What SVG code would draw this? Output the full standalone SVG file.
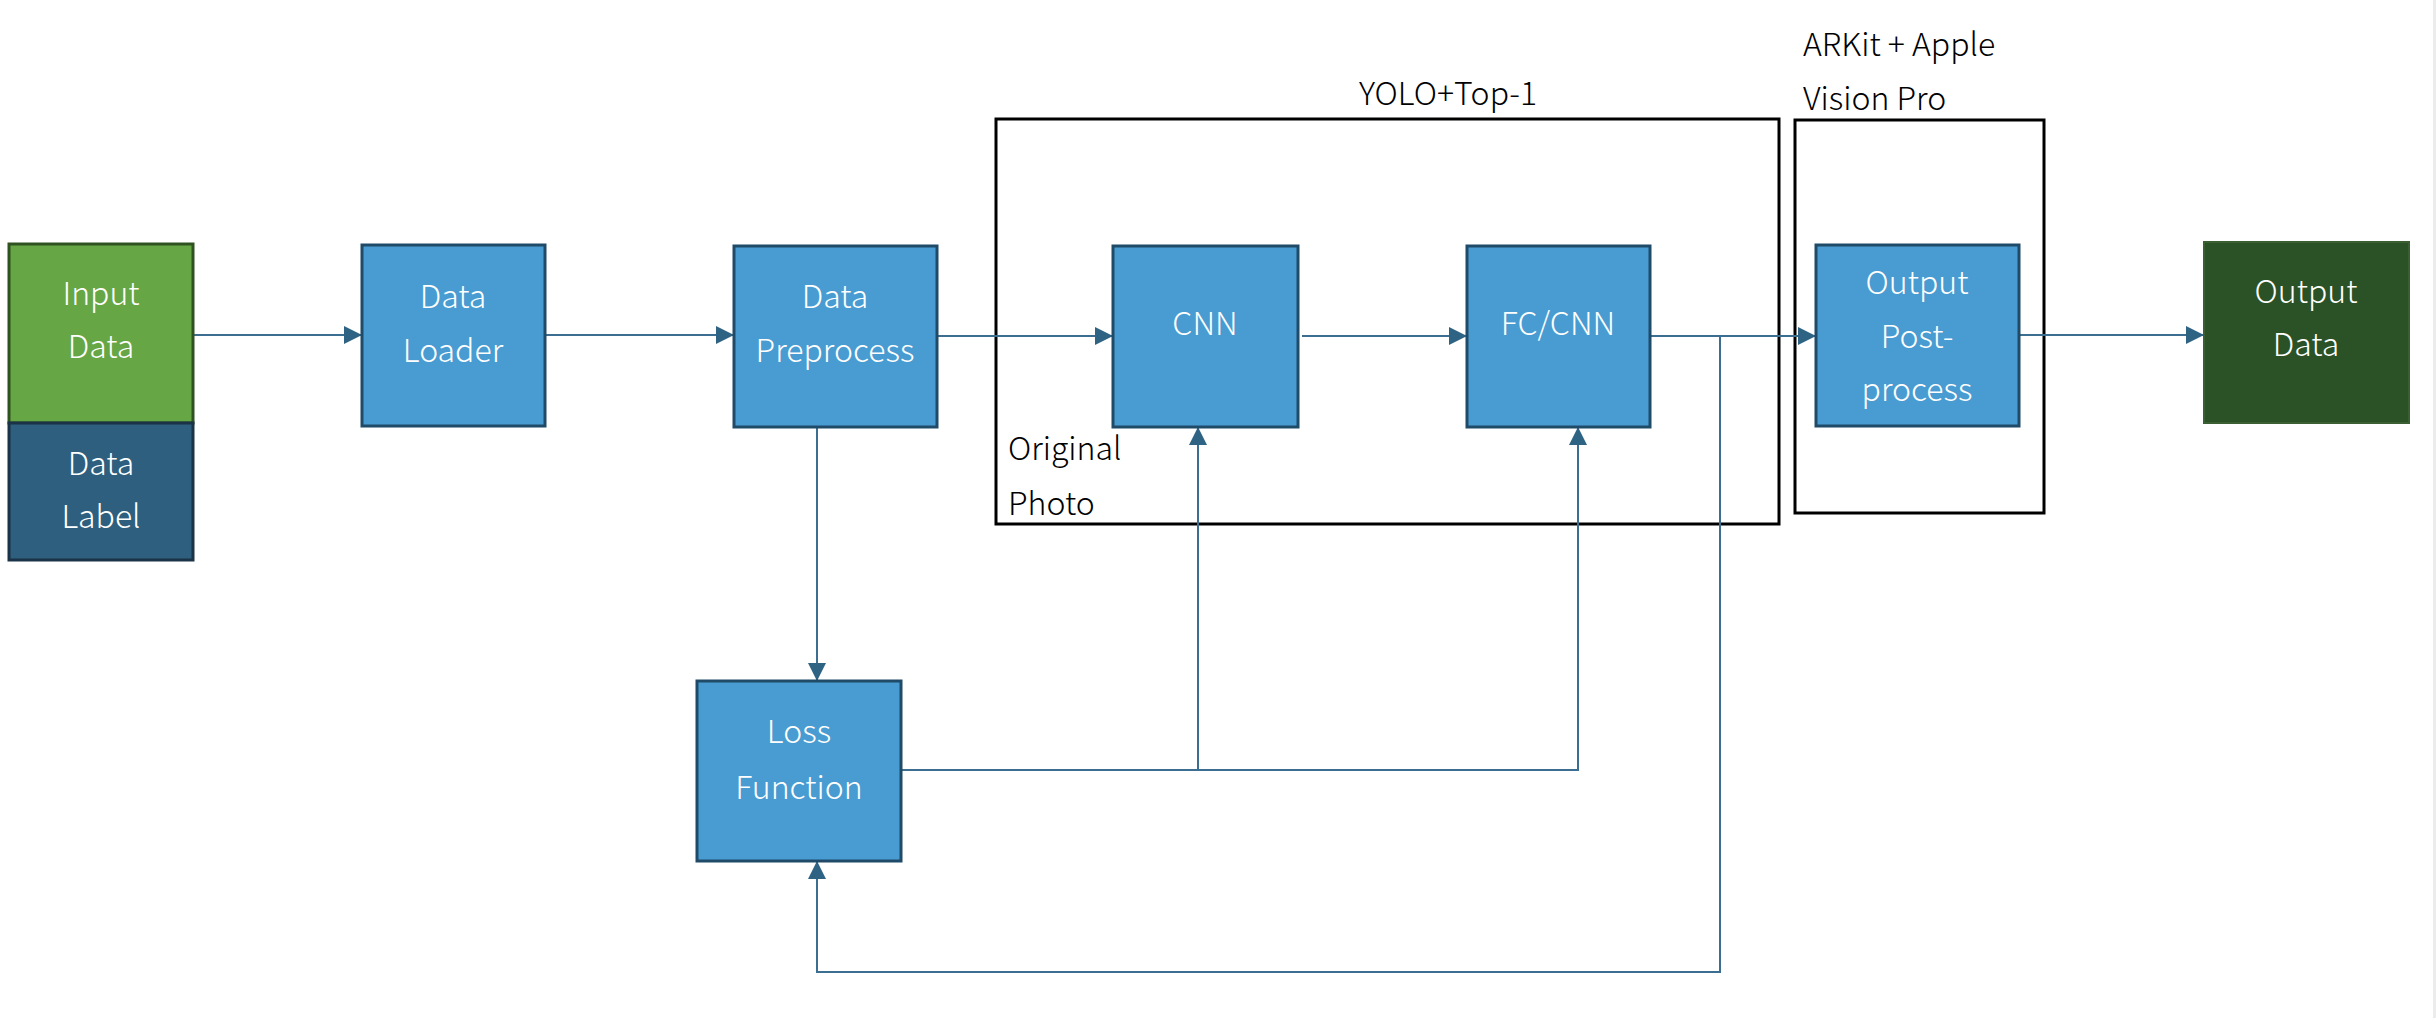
<svg xmlns="http://www.w3.org/2000/svg" width="2436" height="1018" viewBox="0 0 2436 1018">
<style>
.box{stroke-width:3}
.blue{fill:#489CD1;stroke:#1F4A68}
.t{font-family:"Noto Sans CJK SC","Liberation Sans",sans-serif;font-size:32px;font-weight:300;fill:#ffffff;text-anchor:middle}
.k{font-family:"Noto Sans CJK SC","Liberation Sans",sans-serif;font-size:32px;font-weight:300;fill:#000000}
.c{fill:none;stroke:#3B6E90;stroke-width:2}
.g{fill:none;stroke:#000000;stroke-width:3}
</style>
<defs>
<marker id="ah" markerUnits="userSpaceOnUse" markerWidth="18" markerHeight="18" refX="18" refY="9" orient="auto">
<path d="M0,0 L18,9 L0,18 Z" fill="#2E6384"/>
</marker>
</defs>
<rect width="2436" height="1018" fill="#ffffff"/>
<rect x="2433" y="0" width="3" height="1018" fill="#ececec"/>

<g id="group-yolo">
<rect class="g" x="996" y="119" width="783" height="405"/>
<text class="k" x="1448" y="105" text-anchor="middle">YOLO+Top-1</text>
<text class="k" x="1008" y="460">Original</text>
<text class="k" x="1008" y="515">Photo</text>
</g>
<g id="group-arkit">
<rect class="g" x="1795" y="120" width="249" height="393"/>
<text class="k" x="1803" y="56">ARKit + Apple</text>
<text class="k" x="1803" y="110">Vision Pro</text>
</g>

<g id="connectors">
<path class="c" d="M193,335 H362" marker-end="url(#ah)"/>
<path class="c" d="M545,335 H734" marker-end="url(#ah)"/>
<path class="c" d="M937,336 H1113" marker-end="url(#ah)"/>
<path class="c" d="M1302,336 H1467" marker-end="url(#ah)"/>
<path class="c" d="M1650,336 H1816" marker-end="url(#ah)"/>
<path class="c" d="M2019,335 H2204" marker-end="url(#ah)"/>
<path class="c" d="M817,427 V681" marker-end="url(#ah)"/>
<path class="c" d="M901,770 H1578 V427" marker-end="url(#ah)"/>
<path class="c" d="M1198,770 V427" marker-end="url(#ah)"/>
<path class="c" d="M1720,336 V972 H817 V861" marker-end="url(#ah)"/>
</g>

<g id="input-data">
<rect class="box" x="9" y="244" width="184" height="179" fill="#66A644" stroke="#2E5320"/>
<text class="t" x="101" y="305">Input</text>
<text class="t" x="101" y="358">Data</text>
</g>
<g id="data-label">
<rect class="box" x="9" y="423" width="184" height="137" fill="#2E5F7E" stroke="#1A3347"/>
<text class="t" x="101" y="475">Data</text>
<text class="t" x="101" y="528">Label</text>
</g>
<g id="data-loader">
<rect class="box blue" x="362" y="245" width="183" height="181"/>
<text class="t" x="453" y="308">Data</text>
<text class="t" x="453" y="362">Loader</text>
</g>
<g id="data-preprocess">
<rect class="box blue" x="734" y="246" width="203" height="181"/>
<text class="t" x="835" y="308">Data</text>
<text class="t" x="835" y="362">Preprocess</text>
</g>
<g id="cnn">
<rect class="box blue" x="1113" y="246" width="185" height="181"/>
<text class="t" x="1205" y="335">CNN</text>
</g>
<g id="fc-cnn">
<rect class="box blue" x="1467" y="246" width="183" height="181"/>
<text class="t" x="1558" y="335">FC/CNN</text>
</g>
<g id="output-postprocess">
<rect class="box blue" x="1816" y="245" width="203" height="181"/>
<text class="t" x="1917" y="294">Output</text>
<text class="t" x="1917" y="348">Post-</text>
<text class="t" x="1917" y="401">process</text>
</g>
<g id="output-data">
<rect x="2204" y="242" width="205" height="181" fill="#2A5226" stroke="#3B5E33" stroke-width="2"/>
<text class="t" x="2306" y="303">Output</text>
<text class="t" x="2306" y="356">Data</text>
</g>
<g id="loss-function">
<rect class="box blue" x="697" y="681" width="204" height="180"/>
<text class="t" x="799" y="743">Loss</text>
<text class="t" x="799" y="799">Function</text>
</g>
</svg>
